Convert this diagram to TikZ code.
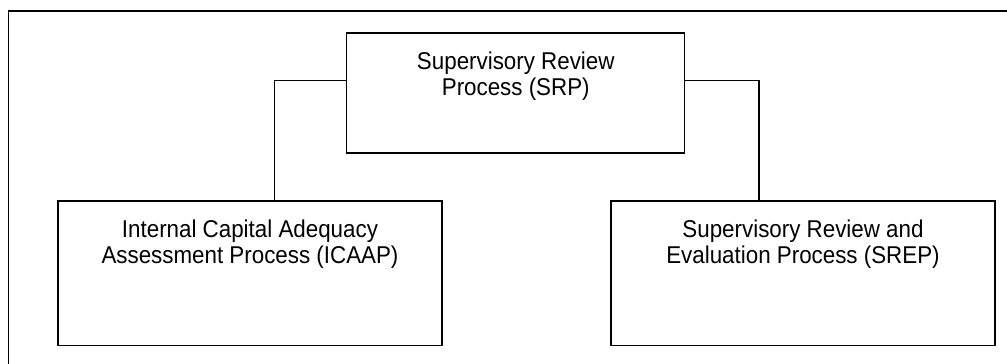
\documentclass[tikz,border=0pt]{standalone}
\usepackage{fontspec}
\setmainfont[FakeStretch=0.92]{Liberation Sans}
\usepackage{tikz}
\usetikzlibrary{positioning}

\newcommand{\boxtext}[3]{\parbox[t][#1][t]{#2}{\centering #3}}

\tikzset{
    process/.style={draw, line width=1.2pt, rectangle, inner xsep=4pt, inner ysep=18.5pt,
        font=\fontsize{24.3}{26.5}\selectfont},
    link/.style={draw, line width=1.2pt},
    frame/.style={draw, line width=1.3pt}
}

\begin{document}
\begin{tikzpicture}[x=1pt, y=-1pt]
    \useasboundingbox (0,0) rectangle (1007,364);

    % Outer frame
    \draw[frame] (8.5,364) -- (8.5,11) -- (1007,11);

    % Define nodes
    \node[process]	(srp)	at (515.75,93)	{\boxtext{83pt}{330pt}{Supervisory Review\\Process (SRP)}};
    \node[process]	(icaap)	at (250,273.2)	{\boxtext{107.5pt}{376pt}{Internal Capital Adequacy\\Assessment Process (ICAAP)}};
    \node[process]	(srep)	at (803,273.2)	{\boxtext{107.5pt}{376pt}{Supervisory Review and\\Evaluation Process (SREP)}};

    % Connect nodes
    \coordinate (lj) at (274.7,80.7);
    \coordinate (rj) at (759,80.7);
    \draw[link] (srp.west |- lj) -| (icaap.north -| lj);
    \draw[link] (srp.east |- rj) -| (srep.north -| rj);
\end{tikzpicture}
\end{document}
